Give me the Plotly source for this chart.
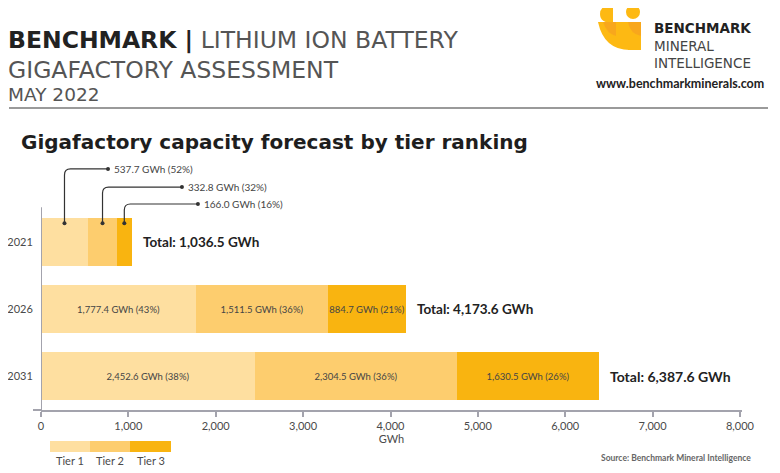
import plotly.graph_objects as go

# ---------------- data ----------------
years = ["2021", "2026", "2031"]
tiers = ["Tier 1", "Tier 2", "Tier 3"]
tier1 = [537.7, 1777.4, 2452.6]
tier2 = [332.8, 1511.5, 2304.5]
tier3 = [166.0, 884.7, 1630.5]
x_ticks = [0, 1000, 2000, 3000, 4000, 5000, 6000, 7000, 8000]

# ---------------- style / layout ----------------
OFF = 8                      # default page body margin
W, H = 780 - OFF, 473 - OFF
L, R, T, B = 41 - OFF, 38, 150 - OFF, 63
PW, PH = W - L - R, H - T - B
colors = ["#FEDFA0", "#FDCD6E", "#F9B410"]
axis_grey = "#A3A3AD"
FONT = "Lato"
HFONT = "DejaVu Sans"
BAR_W = 0.72

def px(p):  # page pixel x -> paper x
    return (p - OFF - L) / PW

def py(p):  # page pixel y -> paper y
    return (H - B - (p - OFF)) / PH

series = [tier1, tier2, tier3]
totals = [a + b + c for a, b, c in zip(tier1, tier2, tier3)]
ypos = list(range(len(years)))

fig = go.Figure()
for ti, (name, vals, col) in enumerate(zip(tiers, series, colors)):
    texts = []
    for yi, v in enumerate(vals):
        if yi == 0:
            texts.append("")
        else:
            pct = round(100 * v / totals[yi])
            texts.append(f"{v:,.1f} GWh ({pct}%)")
    fig.add_trace(go.Bar(
        y=ypos, x=vals, orientation="h", name=name, width=BAR_W,
        marker=dict(color=col, line=dict(width=0)),
        text=texts, textposition="inside", insidetextanchor="middle",
        textangle=0, constraintext="none",
        textfont=dict(family=FONT, size=9.5, color="#454545"),
        showlegend=False, hoverinfo="skip",
    ))

# callouts for 2021
callout_y = [-1.09, -0.82, -0.567]
callout_xend = [767, 1613, 1796]
label_gap = 41
dot_y = -0.28
rx, ry = 69, 0.09
shapes = []
cum = 0.0
dot_x, dot_yy = [], []
for ti, vals in enumerate(series):
    v = vals[0]
    mid = cum + v / 2
    cum += v
    yh = callout_y[ti]
    xe = callout_xend[ti]
    shapes.append(dict(
        type="path", xref="x", yref="y",
        path=f"M {mid},{dot_y} L {mid},{yh + ry} Q {mid},{yh} {mid + rx},{yh} L {xe},{yh}",
        line=dict(color="#333333", width=1.2),
    ))
    dot_x += [mid, xe]
    dot_yy += [dot_y, yh]
    pct = round(100 * v / totals[0])
    fig.add_annotation(x=xe + label_gap, y=yh, xref="x", yref="y",
                       text=f"{v:,.1f} GWh ({pct}%)", showarrow=False,
                       xanchor="left", yanchor="middle",
                       font=dict(family=FONT, size=10, color="#454545"))
fig.add_trace(go.Scatter(x=dot_x, y=dot_yy, mode="markers",
                         marker=dict(size=4, color="#333333"),
                         showlegend=False, hoverinfo="skip"))

# totals
for yi, tot in enumerate(totals):
    fig.add_annotation(x=tot, y=yi, xref="x", yref="y",
                       text=f"<b>Total: {tot:,.1f} GWh</b>", showarrow=False,
                       xanchor="left", yanchor="middle", xshift=9,
                       font=dict(family=FONT, size=14 if yi == 2 else 13.5, color="#222222"))

# y axis line (drawn as a shape so it stops below the callouts)
shapes.append(dict(type="line", xref="x", yref="y", x0=0, x1=0, y0=-0.52, y1=2.507,
                   line=dict(color=axis_grey, width=2)))
# short x-axis line stub left of zero
shapes.append(dict(type="line", xref="paper", yref="paper", x0=px(33), x1=0, y0=0, y1=0,
                   line=dict(color=axis_grey, width=2)))

# header rule
shapes.append(dict(type="line", xref="paper", yref="paper",
                   x0=px(9), x1=px(768), y0=py(108), y1=py(108),
                   line=dict(color="#9a9a9a", width=2)))

# legend swatches
sw_x = [50, 90, 130, 171]
for i, (name, col) in enumerate(zip(tiers, colors)):
    shapes.append(dict(type="rect", xref="paper", yref="paper",
                       x0=px(sw_x[i]), x1=px(sw_x[i + 1]), y0=py(452), y1=py(441),
                       fillcolor=col, line=dict(width=0)))
    fig.add_annotation(x=px((sw_x[i] + sw_x[i + 1]) / 2), y=py(460), xref="paper", yref="paper",
                       text=name, showarrow=False, xanchor="center", yanchor="middle",
                       font=dict(family=FONT, size=11, color="#4a4a4a"))

# logo shapes
logo_y = "#FDB913"
logo_o = "#F7A51E"
shapes += [
    dict(type="circle", xref="paper", yref="paper", x0=px(626), x1=px(640), y0=py(19), y1=py(5),
         fillcolor=logo_y, line=dict(width=0)),
    dict(type="path", xref="paper", yref="paper",
         path=f"M {px(613)},{py(5)} Q {px(600)},{py(5)} {px(600)},{py(14)} Q {px(600)},{py(23)} {px(613)},{py(23)} Z",
         fillcolor=logo_y, line=dict(width=0)),
    dict(type="path", xref="paper", yref="paper",
         path=f"M {px(598)},{py(22)} L {px(630)},{py(22)} L {px(630)},{py(50)} Q {px(604)},{py(50)} {px(598)},{py(22)} Z",
         fillcolor=logo_y, line=dict(width=0)),
    dict(type="rect", xref="paper", yref="paper", x0=px(628), x1=px(641), y0=py(50), y1=py(22),
         fillcolor=logo_y, line=dict(width=0)),
    dict(type="path", xref="paper", yref="paper",
         path=f"M {px(603)},{py(22)} L {px(616)},{py(22)} L {px(616)},{py(36)} Q {px(607)},{py(34)} {px(603)},{py(22)} Z",
         fillcolor=logo_o, line=dict(width=0), opacity=0.9),
    dict(type="path", xref="paper", yref="paper",
         path=f"M {px(628)},{py(22)} L {px(641)},{py(22)} L {px(641)},{py(36)} Q {px(630)},{py(34)} {px(628)},{py(22)} Z",
         fillcolor=logo_o, line=dict(width=0), opacity=0.9),
]

fig.update_layout(shapes=shapes)

# header texts
def txt(x, y, text, size, color="#333333", anchor="left", family=FONT, align="left"):
    fig.add_annotation(x=px(x), y=py(y), xref="paper", yref="paper", text=text,
                       showarrow=False, xanchor=anchor, yanchor="middle", align=align,
                       font=dict(family=family, size=size, color=color))

txt(6, 40, "<b>BENCHMARK |</b> <span style='color:#555555'>LITHIUM ION BATTERY</span>", 23.5, "#222222", family=HFONT)
txt(6, 70, "GIGAFACTORY ASSESSMENT", 23.5, "#555555", family=HFONT)
txt(6, 94, "MAY 2022", 18.5, "#555555", family=HFONT)
txt(19, 142, "<b>Gigafactory capacity forecast by tier ranking</b>", 20, "#1e1e1e", family=HFONT)
txt(652, 45.5, "<b><span style='color:#222222'>BENCHMARK</span></b><br>MINERAL<br>INTELLIGENCE",
    13.5, "#444444", family=HFONT)
txt(594, 83, "<b>www.benchmarkminerals.com</b>", 12.5, "#222222")
txt(753, 458, "<b>Source: Benchmark Mineral Intelligence</b>", 8.5, "#666666", anchor="right")

fig.update_layout(
    width=W, height=H,
    margin=dict(l=L, r=R, t=T, b=B, autoexpand=False),
    paper_bgcolor="white", plot_bgcolor="white",
    barmode="stack", bargap=0,
    xaxis=dict(range=[0, 8023], tickvals=x_ticks,
               ticktext=[f"{v:,}" for v in x_ticks],
               showgrid=False, zeroline=False, automargin=False,
               showline=True, linecolor=axis_grey, linewidth=2,
               ticks="outside", ticklen=5, tickcolor=axis_grey, tickwidth=1.5,
               tickfont=dict(family=FONT, size=11, color="#4a4a4a"),
               title=dict(text="GWh", standoff=2,
                          font=dict(family=FONT, size=11, color="#4a4a4a"))),
    yaxis=dict(range=[2.507, -1.373], tickvals=ypos, ticktext=years,
               showgrid=False, zeroline=False, showline=False, automargin=False,
               ticks="outside", ticklen=5, tickcolor="rgba(0,0,0,0)",
               tickfont=dict(family=FONT, size=11, color="#4a4a4a")),
    showlegend=False,
)

fig.write_html("out.html")
